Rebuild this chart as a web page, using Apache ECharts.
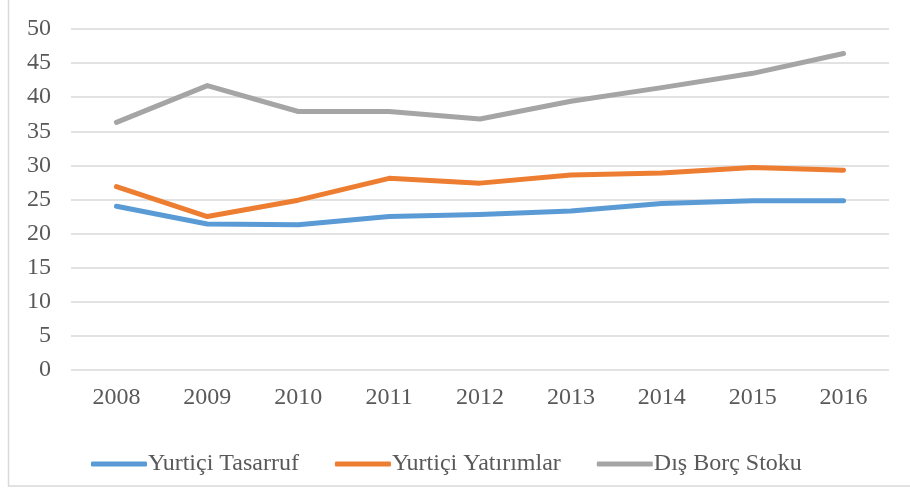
<!DOCTYPE html>
<html lang="tr">
<head>
  <meta charset="utf-8">
  <title>Yurtiçi Tasarruf, Yatırımlar ve Dış Borç Stoku</title>
  <script src="https://cdn.jsdelivr.net/npm/echarts@6/dist/echarts.min.js"></script>
  <style>
    html, body { margin: 0; padding: 0; background: #fff; }
    #chart { width: 910px; height: 488px; }
  </style>
</head>
<body>
<div id="chart"></div>
<script>
  var years = ['2008', '2009', '2010', '2011', '2012', '2013', '2014', '2015', '2016'];
  var tasarruf = [24.0, 21.4, 21.3, 22.5, 22.8, 23.3, 24.4, 24.8, 24.8];
  var yatirimlar = [26.9, 22.5, 24.9, 28.1, 27.4, 28.6, 28.9, 29.7, 29.3];
  var disBorc = [36.3, 41.7, 37.9, 37.9, 36.8, 39.4, 41.4, 43.5, 46.4];
  var seriesNames = ['Yurtiçi Tasarruf', 'Yurtiçi Yatırımlar', 'Dış Borç Stoku'];

  var textColor = '#595959';
  var font = '"Liberation Serif", "Times New Roman", serif';

  var chart = echarts.init(document.getElementById('chart'));

  function line(name, data, color) {
    return {
      name: name,
      type: 'line',
      data: data,
      symbol: 'none',
      lineStyle: { width: 5, color: color, cap: 'round', join: 'round' },
      itemStyle: { color: color }
    };
  }

  var option = {
    animation: false,
    textStyle: { fontFamily: font, color: textColor },
    graphic: [{
      type: 'rect',
      shape: { x: 8.5, y: -5, width: 910, height: 491 },
      style: { fill: 'none', stroke: '#d9d9d9', lineWidth: 1.5 },
      silent: true
    }],
    grid: { left: 71, right: 21, top: 29, bottom: 118 },
    xAxis: {
      type: 'category',
      data: years,
      boundaryGap: true,
      axisLine: { show: false },
      axisTick: { show: false },
      axisLabel: { fontSize: 24, color: textColor, fontFamily: font, margin: 16 }
    },
    yAxis: {
      type: 'value',
      min: 0,
      max: 50,
      interval: 5,
      axisLine: { show: false },
      axisTick: { show: false },
      axisLabel: { fontSize: 24, color: textColor, fontFamily: font, margin: 20 },
      splitLine: { lineStyle: { color: '#d9d9d9', width: 1.5 } }
    },
    legend: {
      bottom: 7,
      left: 86,
      itemWidth: 56,
      itemHeight: 5,
      itemGap: 36,
      icon: 'roundRect',
      textStyle: { fontSize: 24, color: textColor, fontFamily: font, padding: [0, 0, 0, -4] },
      data: seriesNames
    },
    series: [
      line(seriesNames[0], tasarruf, '#5b9bd5'),
      line(seriesNames[1], yatirimlar, '#ed7d31'),
      line(seriesNames[2], disBorc, '#a5a5a5')
    ]
  };

  chart.setOption(option);
</script>
</body>
</html>
